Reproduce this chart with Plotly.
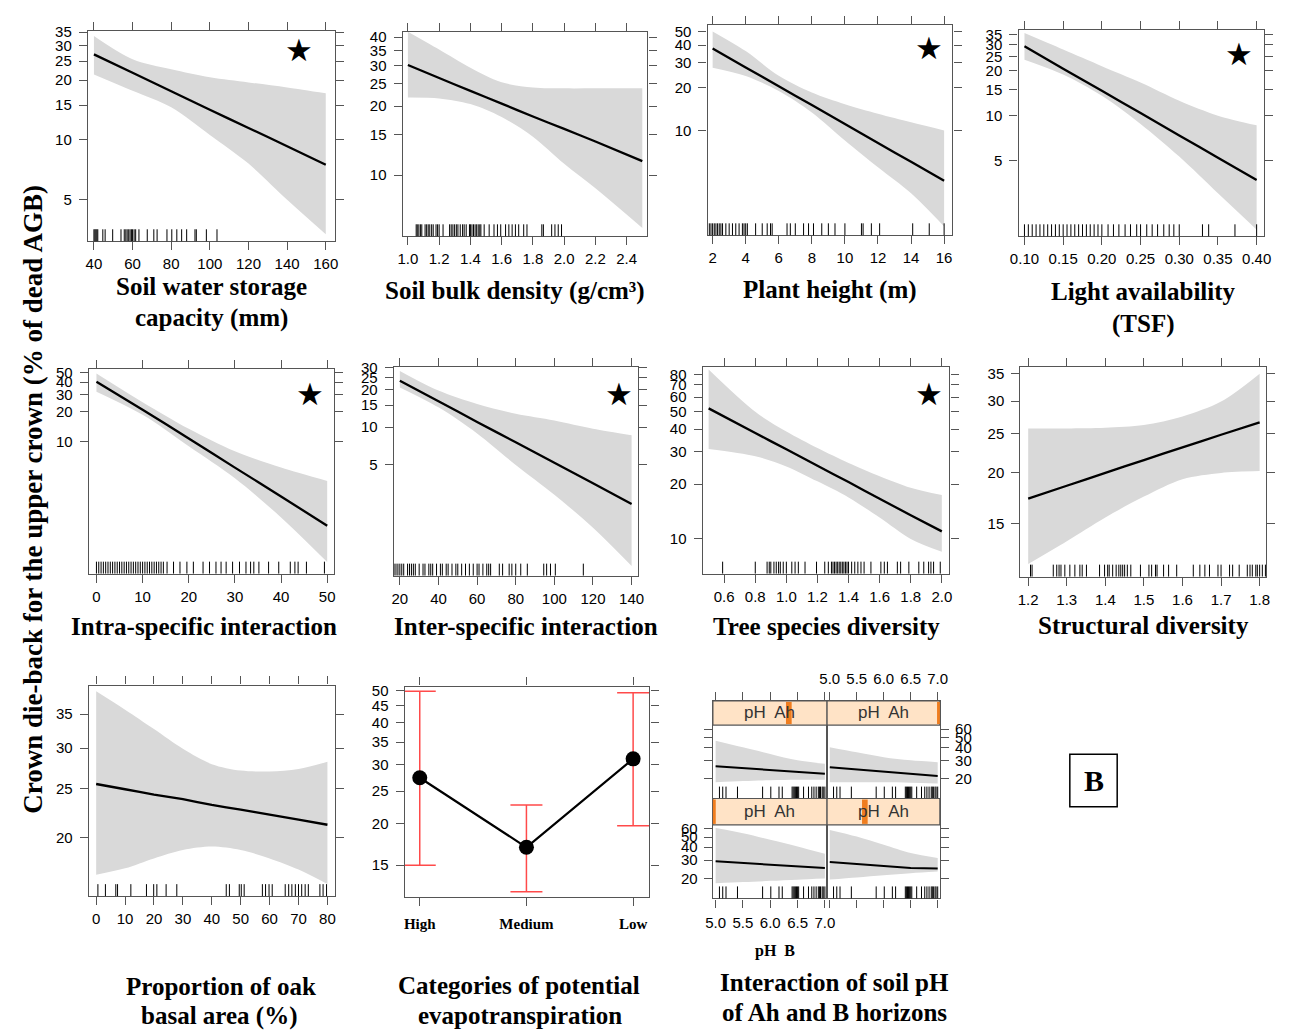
import plotly.graph_objects as go

W, H = 1289, 1030

# ---------------- DATA ----------------
# Panel 1: Soil water storage capacity
swsc_x = [40, 60, 80, 100, 120, 140, 160]
swsc_fit = [27.0, 21.8, 17.6, 14.2, 11.5, 9.3, 7.5]
swsc_upper = [33.4, 25.5, 22.7, 20.7, 19.5, 18.4, 17.2]
swsc_lower = [21.4, 17.7, 14.6, 10.6, 7.6, 5.0, 3.35]
swsc_rug = [40, 40.5, 41, 41.5, 42, 44.6, 45.8, 49.7, 54, 55.7, 56.5, 57.2, 58, 58.7, 59.4, 60,
            60.8, 61.6, 63.3, 67.6, 71, 72.7, 77.8, 80.3, 82.9, 85.4, 88, 92.3, 93, 98.2, 103.7]
swsc_xticks = [40, 60, 80, 100, 120, 140, 160]
swsc_yticks = [5, 10, 15, 20, 25, 30, 35]

# Panel 2: Soil bulk density
bd_x = [1.0, 1.2, 1.4, 1.6, 1.8, 2.0, 2.2, 2.5]
bd_fit = [30.2, 26.5, 23.3, 20.5, 18.0, 15.9, 14.0, 11.5]
bd_upper = [42.2, 35.3, 29.4, 25.4, 24.1, 23.9, 23.9, 23.9]
bd_lower = [21.8, 21.6, 20.4, 17.9, 14.7, 11.2, 8.75, 5.87]
bd_rug = [1.053, 1.06, 1.07, 1.08, 1.089, 1.11, 1.12, 1.13, 1.14, 1.152, 1.162, 1.18, 1.19, 1.20,
          1.225, 1.267, 1.277, 1.288, 1.299, 1.31, 1.32, 1.335, 1.35, 1.36, 1.373, 1.394, 1.40,
          1.41, 1.42, 1.43, 1.44, 1.45, 1.46, 1.467, 1.488, 1.52, 1.551, 1.573, 1.594, 1.625,
          1.646, 1.667, 1.688, 1.709, 1.741, 1.762, 1.857, 1.867, 1.92, 1.941, 1.962, 1.983]
bd_xticks = [1.0, 1.2, 1.4, 1.6, 1.8, 2.0, 2.2, 2.4]
bd_yticks = [10, 15, 20, 25, 30, 35, 40]

# Panel 3: Plant height
ph_x = [2, 4, 6, 8, 10, 12, 14, 16]
ph_fit = [37.8, 27.8, 20.5, 15.1, 11.1, 8.15, 6.0, 4.42]
ph_upper = [50, 36.3, 24.3, 18.5, 15.3, 13.1, 11.4, 10.0]
ph_lower = [27.7, 24.2, 19.0, 13.4, 8.5, 5.5, 3.6, 2.1]
ph_rug = [1.8, 1.9, 2.0, 2.1, 2.2, 2.3, 2.4, 2.5, 2.6, 2.8, 3.0, 3.2, 3.4, 3.6, 3.8, 3.9, 4.0, 4.1,
          4.6, 5.0, 5.3, 5.5, 5.6, 6.5, 6.7, 7.0, 7.5, 7.8, 8.1, 8.6, 9.0, 9.4, 10.0, 11.0, 11.1,
          11.6, 12.1, 14.1, 15.1, 16.0]
ph_xticks = [2, 4, 6, 8, 10, 12, 14, 16]
ph_yticks = [10, 20, 30, 40, 50]

# Panel 4: Light availability (TSF)
la_x = [0.10, 0.15, 0.20, 0.25, 0.30, 0.35, 0.40]
la_fit = [29.3, 20.7, 14.7, 10.4, 7.36, 5.21, 3.69]
la_upper = [35.9, 27.8, 21.5, 16.7, 12.6, 10.0, 8.6]
la_lower = [23.8, 18.9, 13.6, 8.8, 5.3, 3.0, 1.71]
la_rug = [0.100, 0.105, 0.110, 0.115, 0.120, 0.125, 0.130, 0.135, 0.140, 0.145, 0.150, 0.155,
          0.160, 0.165, 0.170, 0.175, 0.180, 0.185, 0.190, 0.195, 0.200, 0.208, 0.215, 0.222,
          0.230, 0.237, 0.245, 0.250, 0.258, 0.265, 0.272, 0.280, 0.287, 0.293, 0.300, 0.330,
          0.338, 0.372, 0.400]
la_xticks = [0.10, 0.15, 0.20, 0.25, 0.30, 0.35, 0.40]
la_yticks = [5, 10, 15, 20, 25, 30, 35]

# Panel 5: Intra-specific interaction
intra_x = [0, 10, 20, 30, 40, 50]
intra_fit = [40.4, 21.0, 10.7, 5.4, 2.75, 1.38]
intra_upper = [49, 25.0, 13.4, 7.9, 5.4, 3.95]
intra_lower = [32, 18.6, 8.9, 4.2, 1.68, 0.59]
intra_rug = [0, 0.5, 1, 1.5, 2, 2.5, 3, 3.5, 4, 4.5, 5, 5.5, 6, 6.5, 7, 7.5, 8, 8.5, 9, 9.5, 10,
             10.5, 11, 11.5, 12, 12.5, 13, 13.5, 14, 14.5, 15.3, 16.7, 18.1, 19.6, 21.0, 23.1,
             24.5, 25.9, 27.0, 28.1, 29.5, 31.0, 32.4, 33.4, 34.1, 35.2, 37.3, 39.5, 42.0, 43.0,
             43.7, 45.5, 49.4]
intra_xticks = [0, 10, 20, 30, 40, 50]
intra_yticks = [10, 20, 30, 40, 50]

# Panel 6: Inter-specific interaction
inter_x = [20, 40, 60, 80, 100, 120, 140]
inter_fit = [23.5, 16.1, 11.0, 7.55, 5.17, 3.54, 2.42]
inter_upper = [28.2, 19.6, 15.3, 12.8, 11.3, 9.7, 8.6]
inter_lower = [20.8, 14.4, 8.9, 4.97, 2.87, 1.56, 0.77]
inter_rug = [17, 18, 19, 20, 21, 22, 24, 25, 26, 27, 28, 30, 32, 33, 35, 36, 37, 39, 41, 42, 44,
             45, 47, 49, 50, 52, 54, 56, 58, 60, 61, 63, 65, 66, 67, 71.5, 73.2, 76.6, 78, 80,
             82.6, 86, 94.5, 96, 98, 100.5, 115]
inter_xticks = [20, 40, 60, 80, 100, 120, 140]
inter_yticks = [5, 10, 15, 20, 25, 30]

# Panel 7: Tree species diversity
tsd_x = [0.5, 0.8, 1.0, 1.2, 1.4, 1.6, 1.8, 2.0]
tsd_fit = [52, 38.1, 31.0, 25.2, 20.5, 16.6, 13.5, 11.0]
tsd_upper = [85, 49.8, 38.8, 31.5, 26.1, 22.1, 19.1, 17.4]
tsd_lower = [31.1, 28.4, 25.0, 20.7, 16.9, 13.1, 10.0, 8.5]
tsd_rug = [0.59, 0.80, 0.876, 0.89, 0.90, 0.92, 0.935, 0.95, 0.961, 0.98, 1.0, 1.035, 1.056,
           1.077, 1.12, 1.194, 1.247, 1.27, 1.29, 1.30, 1.31, 1.32, 1.33, 1.34, 1.35, 1.36, 1.37,
           1.38, 1.39, 1.40, 1.42, 1.44, 1.46, 1.48, 1.50, 1.544, 1.608, 1.63, 1.65, 1.714,
           1.735, 1.788, 1.852, 1.884, 1.915, 1.93, 1.947, 1.99]
tsd_xticks = [0.6, 0.8, 1.0, 1.2, 1.4, 1.6, 1.8, 2.0]
tsd_yticks = [10, 20, 30, 40, 50, 60, 70, 80]

# Panel 8: Structural diversity
sd_x = [1.2, 1.3, 1.4, 1.5, 1.6, 1.7, 1.8]
sd_fit = [17.3, 18.6, 20.0, 21.5, 23.1, 24.8, 26.6]
sd_upper = [25.7, 25.7, 25.8, 26.2, 27.5, 29.9, 35.0]
sd_lower = [11.96, 13.6, 15.55, 17.5, 19.3, 20.0, 20.2]
sd_rug = [1.206, 1.21, 1.265, 1.274, 1.28, 1.285, 1.295, 1.308, 1.321, 1.334, 1.34, 1.351, 1.385,
          1.398, 1.406, 1.41, 1.419, 1.428, 1.435, 1.44, 1.445, 1.45, 1.457, 1.466, 1.491, 1.513,
          1.52, 1.53, 1.534, 1.551, 1.564, 1.585, 1.628, 1.645, 1.658, 1.67, 1.692, 1.70, 1.722,
          1.73, 1.747, 1.768, 1.775, 1.781, 1.79, 1.794, 1.80, 1.807, 1.815]
sd_xticks = [1.2, 1.3, 1.4, 1.5, 1.6, 1.7, 1.8]
sd_yticks = [15, 20, 25, 30, 35]

# Panel 9: Proportion of oak basal area
oak_x = [0, 10, 20, 30, 40, 50, 60, 70, 80]
oak_fit = [25.5, 24.9, 24.3, 23.8, 23.2, 22.7, 22.2, 21.7, 21.2]
oak_upper = [38.8, 35.7, 32.7, 29.9, 27.9, 27.1, 27.0, 27.3, 28.2]
oak_lower = [16.9, 17.4, 18.2, 18.9, 19.2, 18.9, 18.2, 17.3, 16.2]
oak_rug = [0.6, 3.2, 6.8, 7.4, 12, 17.4, 19.9, 21, 24.2, 27.9, 45, 46.1, 49.5, 50.2, 51.2, 57.5,
           58.6, 59.8, 60.9, 65.4, 66.6, 67.7, 68.9, 70, 71.1, 72.3, 73.4, 77.4, 78.5, 79.7]
oak_xticks = [0, 10, 20, 30, 40, 50, 60, 70, 80]
oak_yticks = [20, 25, 30, 35]

# Panel 10: Categories of potential evapotranspiration
pet_cats = ["High", "Medium", "Low"]
pet_est = [27.4, 16.97, 31.2]
pet_upper = [49.7, 22.7, 49.2]
pet_lower = [15.0, 12.5, 19.7]
pet_yticks = [15, 20, 25, 30, 35, 40, 45, 50]

# Panel 11: Interaction pH Ah x pH B (levels of pH Ah per sub-panel)
phb_x = [5.0, 5.5, 6.0, 6.5, 7.0]
phah_levels = {"BL": 5.0, "BR": 5.67, "TL": 6.33, "TR": 7.0}
phb_fit = {"TL": [26.4, 25.3, 24.3, 23.3, 22.3],
           "TR": [25.8, 24.6, 23.4, 22.3, 21.2],
           "BL": [29.3, 28.2, 27.2, 26.2, 25.2],
           "BR": [28.8, 27.6, 26.4, 25.2, 24.9]}
phb_upper = {"TL": [46.4, 40.1, 34.6, 30.0, 27.8],
             "TR": [40.1, 35.9, 32.2, 30.0, 28.8],
             "BL": [61.0, 54.4, 47.1, 40.6, 34.5],
             "BR": [58.6, 50.6, 42.2, 35.1, 31.5]}
phb_lower = {"TL": [18.5, 19.0, 19.3, 19.5, 19.5],
             "TR": [18.5, 18.5, 18.5, 18.3, 18.0],
             "BL": [18.0, 18.5, 19.0, 19.5, 20.0],
             "BR": [19.6, 20.5, 21.5, 22.5, 23.3]}
phb_rug = [5.07, 5.13, 5.19, 5.40, 5.86, 6.01, 6.16, 6.22, 6.40, 6.42, 6.44, 6.46, 6.48, 6.50,
           6.52, 6.61, 6.70, 6.76, 6.80, 6.84, 6.88, 6.90, 6.92, 6.95, 6.97, 7.0]
phb_xticks = [5.0, 5.5, 6.0, 6.5, 7.0]
phb_yticks = [20, 30, 40, 50, 60]

# ---------------- STYLE / LAYOUT ----------------
FRAME = "#555555"
BAND = "#d9d9d9"
TICKFONT = dict(family="Liberation Sans, Arial", size=15, color="black")
SERIF = "Liberation Serif, Times New Roman"


def nm(n):
    return "" if n == 1 else str(n)


def xdom(l, r):
    return [l / W, r / W]


def ydom(t, b):
    return [1 - b / H, 1 - t / H]


def base_axis():
    return dict(showline=True, linecolor=FRAME, linewidth=1.4, mirror="allticks",
                ticks="outside", ticklen=8, tickwidth=1.4, tickcolor=FRAME,
                showgrid=False, zeroline=False, tickfont=TICKFONT, fixedrange=True)


def add_band(fig, x, lo, up, s, width=2.3):
    fig.add_trace(go.Scatter(x=x, y=lo, mode="lines", line=dict(width=0, color=BAND,
                             shape="spline", smoothing=0.9), hoverinfo="skip",
                             xaxis="x" + s, yaxis="y" + s))
    fig.add_trace(go.Scatter(x=x, y=up, mode="lines", fill="tonexty", fillcolor=BAND,
                             line=dict(width=0, color=BAND, shape="spline", smoothing=0.9),
                             hoverinfo="skip", xaxis="x" + s, yaxis="y" + s))


panels = [
    dict(n=1, box=(80, 23, 330, 235), xr=[36.9, 164.6], yr=[0.49, 1.55], x=swsc_x, fit=swsc_fit,
         up=swsc_upper, lo=swsc_lower, rug=swsc_rug, xt=swsc_xticks, fmt="{:g}", yt=swsc_yticks,
         star=(294, 42)),
    dict(n=2, box=(399, 24, 647, 230), xr=[0.967, 2.533], yr=[0.733, 1.625], x=bd_x, fit=bd_fit,
         up=bd_upper, lo=bd_lower, rug=bd_rug, xt=bd_xticks, fmt="{:.1f}", yt=bd_yticks, star=None),
    dict(n=3, box=(708, 17, 956, 229), xr=[1.70, 16.5], yr=[0.26, 1.745], x=ph_x, fit=ph_fit,
         up=ph_upper, lo=ph_lower, rug=ph_rug, xt=ph_xticks, fmt="{:g}", yt=ph_yticks,
         star=(932, 40)),
    dict(n=4, box=(1023, 22, 1272, 230), xr=[0.0923, 0.4098], yr=[0.189, 1.577], x=la_x,
         fit=la_fit, up=la_upper, lo=la_lower, rug=la_rug, xt=la_xticks, fmt="{:.2f}",
         yt=la_yticks, star=(1246, 46)),
    dict(n=5, box=(81, 364, 329, 570), xr=[-1.63, 51.4], yr=[-0.346, 1.734], x=intra_x,
         fit=intra_fit, up=intra_upper, lo=intra_lower, rug=intra_rug, xt=intra_xticks,
         fmt="{:g}", yt=intra_yticks, star=(305, 389)),
    dict(n=6, box=(390, 362, 637, 572), xr=[16.9, 143.1], yr=[-0.19, 1.48], x=inter_x,
         fit=inter_fit, up=inter_upper, lo=inter_lower, rug=inter_rug, xt=inter_xticks,
         fmt="{:g}", yt=inter_yticks, star=(618, 389)),
    dict(n=7, box=(703, 362, 953, 570), xr=[0.462, 2.049], yr=[0.81, 1.942], x=tsd_x,
         fit=tsd_fit, up=tsd_upper, lo=tsd_lower, rug=tsd_rug, xt=tsd_xticks, fmt="{:.1f}",
         yt=tsd_yticks, star=(932, 389)),
    dict(n=8, box=(1025, 362, 1274, 573), xr=[1.180, 1.817], yr=[1.047, 1.560], x=sd_x,
         fit=sd_fit, up=sd_upper, lo=sd_lower, rug=sd_rug, xt=sd_xticks, fmt="{:.1f}",
         yt=sd_yticks, star=None),
    dict(n=9, box=(81, 683, 330, 895), xr=[-2.5, 82.5], yr=[1.186, 1.600], x=oak_x, fit=oak_fit,
         up=oak_upper, lo=oak_lower, rug=oak_rug, xt=oak_xticks, fmt="{:g}", yt=oak_yticks,
         star=None),
]

fig = go.Figure()
layout = dict(width=W, height=H, margin=dict(l=0, r=0, t=0, b=0), paper_bgcolor="white",
              plot_bgcolor="rgba(0,0,0,0)", showlegend=False)
shapes = []
annotations = []

RUG_PX = 12

for p in panels:
    n = p["n"]
    s = nm(n)
    l, t, r, b = p["box"]
    xa = base_axis()
    xa.update(domain=xdom(l, r), range=p["xr"], anchor="y" + s, tickmode="array",
              tickvals=p["xt"], ticktext=[p["fmt"].format(v) for v in p["xt"]],
              ticklabelstandoff=1)
    ya = base_axis()
    ya.update(domain=ydom(t, b), type="log", range=p["yr"], anchor="x" + s, tickmode="array",
              tickvals=p["yt"], ticktext=[str(v) for v in p["yt"]], ticklabelstandoff=4)
    layout["xaxis" + s] = xa
    layout["yaxis" + s] = ya
    add_band(fig, p["x"], p["lo"], p["up"], s)
    fig.add_trace(go.Scatter(x=p["x"], y=p["fit"], mode="lines",
                             line=dict(color="black", width=2.3, shape="spline", smoothing=0.5),
                             xaxis="x" + s, yaxis="y" + s))
    h = RUG_PX / (b - t)
    for v in p["rug"]:
        shapes.append(dict(type="line", xref="x" + s, yref="y" + s + " domain", x0=v, x1=v,
                           y0=0, y1=h, line=dict(color="black", width=1)))
    if p["star"]:
        sx, sy = p["star"]
        annotations.append(dict(text="★", x=sx / W, y=1 - sy / H, xref="paper", yref="paper",
                                showarrow=False, xanchor="center", yanchor="middle",
                                font=dict(family="DejaVu Sans", size=31, color="black")))

# Panel 10: categorical
l, t, r, b = (401, 684, 649, 896)
xa = base_axis()
xa.update(domain=xdom(l, r), type="category", categoryorder="array", categoryarray=pet_cats,
          range=[-0.141, 2.153], anchor="y10", ticklabelstandoff=5,
          tickfont=dict(family=SERIF, size=15, color="black", weight="bold"))
ya = base_axis()
ya.update(domain=ydom(t, b), type="log", range=[1.081, 1.710], anchor="x10", tickmode="array",
          tickvals=pet_yticks, ticktext=[str(v) for v in pet_yticks], ticklabelstandoff=4)
layout["xaxis10"] = xa
layout["yaxis10"] = ya
fig.add_trace(go.Scatter(x=pet_cats, y=pet_est, mode="markers", marker=dict(size=1, opacity=0),
                         error_y=dict(type="data", symmetric=False,
                                      array=[u - e for u, e in zip(pet_upper, pet_est)],
                                      arrayminus=[e - lo for e, lo in zip(pet_est, pet_lower)],
                                      color="#ff4a4a", thickness=1.5, width=16),
                         xaxis="x10", yaxis="y10"))
fig.add_trace(go.Scatter(x=pet_cats, y=pet_est, mode="lines+markers",
                         line=dict(color="black", width=2.2),
                         marker=dict(size=15, color="black"), xaxis="x10", yaxis="y10"))

# Panel 11: 2x2 interaction lattice
sub = {
    "TL": dict(n=11, box=(713.3, 698.3, 829, 796.7), strip=(698.3, 722.7), xside="top",
               xlab=False, yside="left", ylab=False),
    "TR": dict(n=12, box=(829, 698.3, 943.3, 796.7), strip=(698.3, 722.7), xside="top",
               xlab=True, yside="right", ylab=True),
    "BL": dict(n=13, box=(713.3, 796.7, 829, 897.3), strip=(796.7, 823.3), xside="bottom",
               xlab=True, yside="left", ylab=True),
    "BR": dict(n=14, box=(829, 796.7, 943.3, 897.3), strip=(796.7, 823.3), xside="bottom",
               xlab=False, yside="right", ylab=False),
}
PX_PER_DEC = 105.0
for key, c in sub.items():
    n = c["n"]
    s = nm(n)
    l, t, r, b = c["box"]
    xa = base_axis()
    xa.update(domain=xdom(l, r), range=[4.95, 7.04], anchor="y" + s, side=c["xside"],
              mirror=True, tickmode="array", tickvals=phb_xticks,
              ticktext=["{:.1f}".format(v) for v in phb_xticks], showticklabels=c["xlab"],
              ticklabelstandoff=2)
    ya = base_axis()
    ya.update(domain=ydom(t, b), type="log", range=[1.111, 1.111 + (b - t) / PX_PER_DEC],
              anchor="x" + s, side=c["yside"], mirror=True, tickmode="array",
              tickvals=phb_yticks, ticktext=[str(v) for v in phb_yticks],
              showticklabels=c["ylab"], ticklabelstandoff=3)
    layout["xaxis" + s] = xa
    layout["yaxis" + s] = ya
    add_band(fig, phb_x, phb_lower[key], phb_upper[key], s)
    fig.add_trace(go.Scatter(x=phb_x, y=phb_fit[key], mode="lines",
                             line=dict(color="black", width=2), xaxis="x" + s, yaxis="y" + s))
    h = RUG_PX / (b - t)
    for v in phb_rug:
        shapes.append(dict(type="line", xref="x" + s, yref="y" + s + " domain", x0=v, x1=v,
                           y0=0, y1=h, line=dict(color="black", width=1)))
    # strip
    st, sb = c["strip"]
    shapes.append(dict(type="rect", xref="paper", yref="paper", x0=l / W, x1=r / W,
                       y0=1 - sb / H, y1=1 - st / H, fillcolor="#ffe3c6",
                       line=dict(color=FRAME, width=1.2), layer="above"))
    frac = (phah_levels[key] - 5.0) / 2.0
    shapes.append(dict(type="rect", xref="x" + s + " domain", yref="paper",
                       x0=max(0.0, frac - 0.025), x1=min(1.0, frac + 0.025),
                       y0=1 - sb / H + 0.001, y1=1 - st / H - 0.001, fillcolor="#f07d1e",
                       line=dict(width=0), layer="above"))
    annotations.append(dict(text="pH  Ah", x=(l + r) / 2 / W, y=1 - (st + sb) / 2 / H,
                            xref="paper", yref="paper", showarrow=False, xanchor="center",
                            yanchor="middle",
                            font=dict(family="Liberation Sans, Arial", size=17, color="#333333")))

# Axis / panel titles
title_font = dict(family=SERIF, size=25, color="black", weight="bold")
titles = [
    ("Soil water storage", 205, 281), ("capacity (mm)", 205, 312),
    ("Soil bulk density (g/cm³)", 513, 285),
    ("Plant height (m)", 832, 284),
    ("Light availability", 1150, 286), ("(TSF)", 1150, 318),
    ("Intra-specific interaction", 198, 623),
    ("Inter-specific interaction", 524, 623),
    ("Tree species diversity", 828, 623),
    ("Structural diversity", 1150, 622),
    ("Proportion of oak", 215, 986), ("basal area (%)", 213, 1016),
    ("Categories of potential", 517, 985), ("evapotranspiration", 518, 1015),
    ("Interaction of soil pH", 837, 982), ("of Ah and B horizons", 837, 1012),
]
for txt, x, y in titles:
    annotations.append(dict(text=txt, x=x / W, y=1 - y / H, xref="paper", yref="paper",
                            showarrow=False, xanchor="center", yanchor="middle",
                            font=title_font))
annotations.append(dict(text="pH  B", x=776 / W, y=1 - 950 / H, xref="paper", yref="paper",
                        showarrow=False, xanchor="center", yanchor="middle",
                        font=dict(family=SERIF, size=16, color="black", weight="bold")))
annotations.append(dict(text="Crown die-back for the upper crown (% of dead AGB)",
                        x=24 / W, y=1 - 495 / H, xref="paper", yref="paper", textangle=-90,
                        showarrow=False, xanchor="center", yanchor="middle",
                        font=dict(family=SERIF, size=27, color="black", weight="bold")))
# "B" label box
shapes.append(dict(type="rect", xref="paper", yref="paper", x0=1075 / W, x1=1123 / W,
                   y0=1 - 805 / H, y1=1 - 752 / H, line=dict(color="black", width=1.5),
                   fillcolor="white"))
annotations.append(dict(text="B", x=1099 / W, y=1 - 779 / H, xref="paper", yref="paper",
                        showarrow=False, xanchor="center", yanchor="middle",
                        font=dict(family=SERIF, size=30, color="black", weight="bold")))

layout["shapes"] = shapes
layout["annotations"] = annotations
fig.update_layout(**layout)
fig.write_html("out.html")
